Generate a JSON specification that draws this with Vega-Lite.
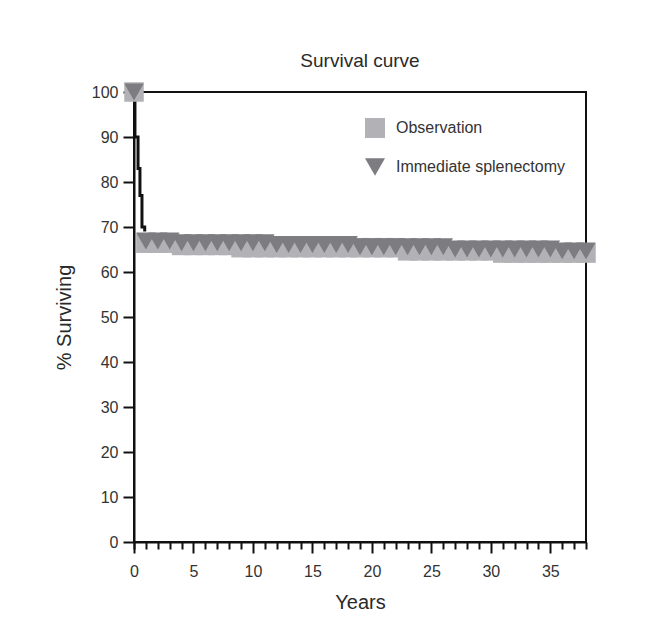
{
  "$schema": "https://vega.github.io/schema/vega-lite/v6.json",
  "width": 452,
  "height": 450,
  "autosize": {"type": "none"},
  "padding": {"left": 134, "top": 92, "right": 71, "bottom": 97},
  "background": "white",
  "title": {"text": "Survival curve", "fontSize": 19, "fontWeight": "normal", "font": "Liberation Sans", "color": "#2a2a2a", "offset": 11, "anchor": "middle"},
  "config": {
    "view": {"stroke": "#111111", "strokeWidth": 2},
    "axis": {"labelFont": "Liberation Sans", "titleFont": "Liberation Sans", "labelColor": "#333333", "titleColor": "#2a2a2a", "labelFontSize": 16, "titleFontWeight": "normal", "grid": false, "domainColor": "#111111", "domainWidth": 2, "tickColor": "#111111", "tickWidth": 2},
    "axisY": {"tickSize": 11, "labelPadding": 5, "titleFontSize": 20, "titlePadding": 17},
    "legend": {"labelFont": "Liberation Sans", "labelColor": "#333333"}
  },
  "datasets": {
    "drop": [
      {"Years": 0, "Surv": 100},
      {"Years": 0.08, "Surv": 90},
      {"Years": 0.34, "Surv": 83},
      {"Years": 0.5, "Surv": 77},
      {"Years": 0.67, "Surv": 70},
      {"Years": 0.9, "Surv": 69}
    ],
    "groups": [
      {"Group": "Observation", "Years": 0, "Surv": 100},
      {"Group": "Observation", "Years": 1, "Surv": 66.4},
      {"Group": "Observation", "Years": 2, "Surv": 66.4},
      {"Group": "Observation", "Years": 3, "Surv": 66.4},
      {"Group": "Observation", "Years": 4, "Surv": 65.9},
      {"Group": "Observation", "Years": 5, "Surv": 65.9},
      {"Group": "Observation", "Years": 6, "Surv": 65.9},
      {"Group": "Observation", "Years": 7, "Surv": 65.9},
      {"Group": "Observation", "Years": 8, "Surv": 65.9},
      {"Group": "Observation", "Years": 9, "Surv": 65.4},
      {"Group": "Observation", "Years": 10, "Surv": 65.4},
      {"Group": "Observation", "Years": 11, "Surv": 65.4},
      {"Group": "Observation", "Years": 12, "Surv": 65.4},
      {"Group": "Observation", "Years": 13, "Surv": 65.4},
      {"Group": "Observation", "Years": 14, "Surv": 65.4},
      {"Group": "Observation", "Years": 15, "Surv": 65.4},
      {"Group": "Observation", "Years": 16, "Surv": 65.4},
      {"Group": "Observation", "Years": 17, "Surv": 65.4},
      {"Group": "Observation", "Years": 18, "Surv": 65.4},
      {"Group": "Observation", "Years": 19, "Surv": 65.4},
      {"Group": "Observation", "Years": 20, "Surv": 65.4},
      {"Group": "Observation", "Years": 21, "Surv": 65.4},
      {"Group": "Observation", "Years": 22, "Surv": 65.4},
      {"Group": "Observation", "Years": 23, "Surv": 64.7},
      {"Group": "Observation", "Years": 24, "Surv": 64.7},
      {"Group": "Observation", "Years": 25, "Surv": 64.7},
      {"Group": "Observation", "Years": 26, "Surv": 64.7},
      {"Group": "Observation", "Years": 27, "Surv": 64.7},
      {"Group": "Observation", "Years": 28, "Surv": 64.7},
      {"Group": "Observation", "Years": 29, "Surv": 64.7},
      {"Group": "Observation", "Years": 30, "Surv": 64.7},
      {"Group": "Observation", "Years": 31, "Surv": 64.2},
      {"Group": "Observation", "Years": 32, "Surv": 64.2},
      {"Group": "Observation", "Years": 33, "Surv": 64.2},
      {"Group": "Observation", "Years": 34, "Surv": 64.2},
      {"Group": "Observation", "Years": 35, "Surv": 64.2},
      {"Group": "Observation", "Years": 36, "Surv": 64.2},
      {"Group": "Observation", "Years": 37, "Surv": 64.2},
      {"Group": "Observation", "Years": 38, "Surv": 64.2},
      {"Group": "Immediate splenectomy", "Years": 0, "Surv": 100},
      {"Group": "Immediate splenectomy", "Years": 1, "Surv": 66.9},
      {"Group": "Immediate splenectomy", "Years": 2, "Surv": 66.9},
      {"Group": "Immediate splenectomy", "Years": 3, "Surv": 66.9},
      {"Group": "Immediate splenectomy", "Years": 4, "Surv": 66.5},
      {"Group": "Immediate splenectomy", "Years": 5, "Surv": 66.5},
      {"Group": "Immediate splenectomy", "Years": 6, "Surv": 66.5},
      {"Group": "Immediate splenectomy", "Years": 7, "Surv": 66.5},
      {"Group": "Immediate splenectomy", "Years": 8, "Surv": 66.5},
      {"Group": "Immediate splenectomy", "Years": 9, "Surv": 66.5},
      {"Group": "Immediate splenectomy", "Years": 10, "Surv": 66.5},
      {"Group": "Immediate splenectomy", "Years": 11, "Surv": 66.5},
      {"Group": "Immediate splenectomy", "Years": 12, "Surv": 66.1},
      {"Group": "Immediate splenectomy", "Years": 13, "Surv": 66.1},
      {"Group": "Immediate splenectomy", "Years": 14, "Surv": 66.1},
      {"Group": "Immediate splenectomy", "Years": 15, "Surv": 66.1},
      {"Group": "Immediate splenectomy", "Years": 16, "Surv": 66.1},
      {"Group": "Immediate splenectomy", "Years": 17, "Surv": 66.1},
      {"Group": "Immediate splenectomy", "Years": 18, "Surv": 66.1},
      {"Group": "Immediate splenectomy", "Years": 19, "Surv": 65.6},
      {"Group": "Immediate splenectomy", "Years": 20, "Surv": 65.6},
      {"Group": "Immediate splenectomy", "Years": 21, "Surv": 65.6},
      {"Group": "Immediate splenectomy", "Years": 22, "Surv": 65.6},
      {"Group": "Immediate splenectomy", "Years": 23, "Surv": 65.6},
      {"Group": "Immediate splenectomy", "Years": 24, "Surv": 65.6},
      {"Group": "Immediate splenectomy", "Years": 25, "Surv": 65.6},
      {"Group": "Immediate splenectomy", "Years": 26, "Surv": 65.6},
      {"Group": "Immediate splenectomy", "Years": 27, "Surv": 65.1},
      {"Group": "Immediate splenectomy", "Years": 28, "Surv": 65.1},
      {"Group": "Immediate splenectomy", "Years": 29, "Surv": 65.1},
      {"Group": "Immediate splenectomy", "Years": 30, "Surv": 65.1},
      {"Group": "Immediate splenectomy", "Years": 31, "Surv": 65.1},
      {"Group": "Immediate splenectomy", "Years": 32, "Surv": 65.1},
      {"Group": "Immediate splenectomy", "Years": 33, "Surv": 65.1},
      {"Group": "Immediate splenectomy", "Years": 34, "Surv": 65.1},
      {"Group": "Immediate splenectomy", "Years": 35, "Surv": 65.1},
      {"Group": "Immediate splenectomy", "Years": 36, "Surv": 64.7},
      {"Group": "Immediate splenectomy", "Years": 37, "Surv": 64.7},
      {"Group": "Immediate splenectomy", "Years": 38, "Surv": 64.7}
    ]
  },
  "layer": [
    {
      "data": {"name": "drop"},
      "mark": {"type": "line", "interpolate": "step-after", "color": "#111111", "strokeWidth": 3},
      "encoding": {
        "x": {"field": "Years", "type": "quantitative", "scale": {"domain": [0, 38], "nice": false},
              "axis": {"orient": "bottom", "values": [0,1,2,3,4,6,7,8,9,11,12,13,14,16,17,18,19,21,22,23,24,26,27,28,29,31,32,33,34,36,37,38], "tickSize": 7, "labels": false, "domain": false, "title": null}},
        "y": {"field": "Surv", "type": "quantitative", "scale": {"domain": [0, 100], "nice": false}, "title": "% Surviving",
              "axis": {"values": [0,10,20,30,40,50,60,70,80,90,100]}}
      }
    },
    {
      "data": {"name": "groups"},
      "mark": {"type": "point", "filled": true, "opacity": 1, "size": 380, "clip": false},
      "encoding": {
        "x": {"field": "Years", "type": "quantitative", "scale": {"domain": [0, 38], "nice": false},
              "axis": {"orient": "bottom", "values": [0,5,10,15,20,25,30,35], "tickSize": 11, "labelPadding": 10, "titleFontSize": 20, "titlePadding": 13, "title": "Years", "labelFlush": false}},
        "y": {"field": "Surv", "type": "quantitative", "scale": {"domain": [0, 100], "nice": false}, "title": "% Surviving"},
        "color": {"field": "Group", "type": "nominal", "sort": null,
                  "scale": {"domain": ["Observation", "Immediate splenectomy"], "range": ["#b2b2b6", "#7d7d81"]},
                  "legend": {"orient": "none", "legendX": 231, "legendY": 26, "title": null, "labelFontSize": 16, "symbolSize": 400, "rowPadding": 19, "labelOffset": 11, "padding": 0, "labelLimit": 300, "symbolStrokeWidth": 0}},
        "shape": {"field": "Group", "type": "nominal", "sort": null,
                  "scale": {"domain": ["Observation", "Immediate splenectomy"], "range": ["square", "triangle-down"]},
                  "legend": {"orient": "none", "legendX": 231, "legendY": 26, "title": null, "labelFontSize": 16, "symbolSize": 400, "rowPadding": 19, "labelOffset": 11, "padding": 0, "labelLimit": 300, "symbolStrokeWidth": 0}}
      }
    }
  ],
  "resolve": {"axis": {"x": "independent"}}
}
